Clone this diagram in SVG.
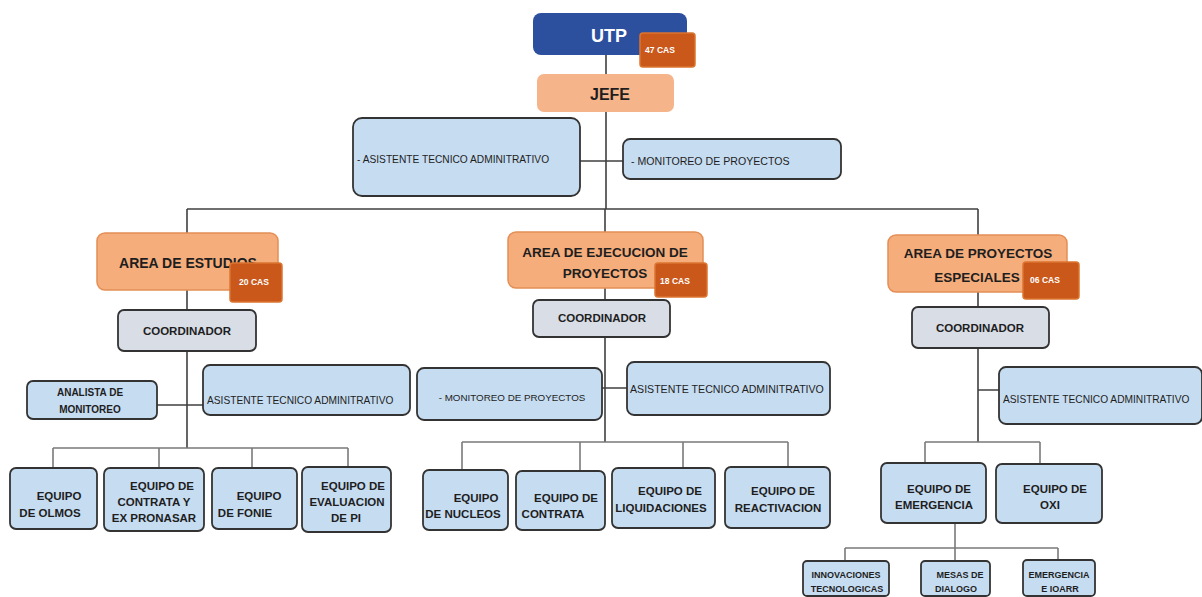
<svg xmlns="http://www.w3.org/2000/svg" width="1202" height="597" viewBox="0 0 1202 597">
<style>
text{font-family:"Liberation Sans",Arial,sans-serif;fill:#1e1e1e}
.b{font-weight:bold}
.c{text-anchor:middle}
.blue{fill:#c6dcf1;stroke:#333;stroke-width:1.8}
.coord{fill:#d8dde6;stroke:#333;stroke-width:1.8}
.area{fill:#f5ad7c;stroke:#e48e56;stroke-width:1.5}
.badge{fill:#c9581a;stroke:#dc7430;stroke-width:1.5}
.bt{fill:#fff;font-weight:bold;font-size:8.5px;text-anchor:middle}
.ln{stroke:#404040;stroke-width:1.6;fill:none}
.ln2{stroke:#7a7a7a;stroke-width:1.6;fill:none}
.eq{font-size:11.5px;font-weight:bold;text-anchor:middle}
.sm{font-size:9px;font-weight:bold;text-anchor:middle}
.at{font-size:10.2px}
</style>
<rect width="1202" height="597" fill="#fff"/>
<g id="connectors">
<path class="ln" d="M606 55V74M606 112V209M580 161H623M187 209H978"/>
<path class="ln" d="M187 209V448M157 405H203"/>
<path class="ln2" d="M53 448H348M53 448V468M159 448V468M252 448V468M348 448V468"/>
<path class="ln" d="M605 209V442M602 388H627"/>
<path class="ln2" d="M462 442H788M462 442V470M580 442V470M683 442V468M788 442V467"/>
<path class="ln" d="M978 209V442M978 390H999"/>
<path class="ln2" d="M925 442H1040M925 442V463M1040 442V464"/>
<path class="ln2" d="M955 523V548M845 548H1058M845 548V561M955 548V561M1058 548V560"/>
</g>
<g id="utp">
<rect x="533" y="13" width="154" height="42" rx="8" fill="#2c4f9e"/>
<text x="609" y="42" class="b c" font-size="18" style="fill:#fff">UTP</text>
<rect class="badge" x="640" y="33" width="55" height="34" rx="3"/>
<text x="660" y="53" class="bt">47 CAS</text>
</g>
<g id="jefe">
<rect x="537" y="74" width="137" height="38" rx="7" fill="#f6b48a"/>
<text x="610" y="100" class="b c" font-size="16">JEFE</text>
</g>
<g id="asistente-top">
<rect class="blue" x="353" y="118" width="227" height="78" rx="9"/>
<text x="357" y="163" class="at">- ASISTENTE TECNICO ADMINITRATIVO</text>
</g>
<g id="monitoreo-top">
<rect class="blue" x="623" y="139" width="218" height="40" rx="7"/>
<text x="631" y="165" font-size="10.6">- MONITOREO DE PROYECTOS</text>
</g>
<g id="area-estudios">
<rect class="area" x="97" y="233" width="181" height="57" rx="8"/>
<text x="188" y="268" class="b c" font-size="14">AREA DE ESTUDIOS</text>
<rect class="badge" x="230" y="263" width="52" height="39" rx="3"/>
<text x="254" y="285" class="bt">20 CAS</text>
</g>
<g id="coord-estudios">
<rect class="coord" x="118" y="310" width="138" height="41" rx="6"/>
<text x="187" y="335" class="b c" font-size="11.5">COORDINADOR</text>
</g>
<g id="analista">
<rect class="blue" x="27" y="381" width="130" height="38" rx="6"/>
<text x="90" y="396" class="b c" font-size="10">ANALISTA DE</text>
<text x="90" y="413" class="b c" font-size="10">MONITOREO</text>
</g>
<g id="asistente-estudios">
<rect class="blue" x="203" y="365" width="207" height="50" rx="7"/>
<text x="207" y="404" class="at">ASISTENTE TECNICO ADMINITRATIVO</text>
</g>
<g id="eq-olmos">
<rect class="blue" x="10" y="468" width="87" height="61" rx="6"/>
<text x="59" y="500" class="eq">EQUIPO</text>
<text x="50" y="517" class="eq">DE OLMOS</text>
</g>
<g id="eq-contrata-pronasar">
<rect class="blue" x="104" y="468" width="100" height="63" rx="6"/>
<text x="162" y="490" class="eq">EQUIPO DE</text>
<text x="154" y="506" class="eq">CONTRATA Y</text>
<text x="154" y="522" class="eq">EX PRONASAR</text>
</g>
<g id="eq-fonie">
<rect class="blue" x="212" y="468" width="85" height="61" rx="6"/>
<text x="259" y="500" class="eq">EQUIPO</text>
<text x="245" y="517" class="eq">DE FONIE</text>
</g>
<g id="eq-evaluacion">
<rect class="blue" x="302" y="467" width="89" height="65" rx="6"/>
<text x="353" y="490" class="eq">EQUIPO DE</text>
<text x="347" y="506" class="eq">EVALUACION</text>
<text x="346" y="522" class="eq">DE PI</text>
</g>
<g id="area-ejecucion">
<rect class="area" x="508" y="232" width="195" height="56" rx="8"/>
<text x="605" y="257" class="b c" font-size="13.5">AREA DE EJECUCION DE</text>
<text x="605" y="278" class="b c" font-size="13.5">PROYECTOS</text>
<rect class="badge" x="655" y="263" width="52" height="34" rx="3"/>
<text x="675" y="284" class="bt">18 CAS</text>
</g>
<g id="coord-ejecucion">
<rect class="coord" x="533" y="300" width="137" height="37" rx="6"/>
<text x="602" y="322" class="b c" font-size="11.5">COORDINADOR</text>
</g>
<g id="monitoreo-ejecucion">
<rect class="blue" x="417" y="368" width="185" height="52" rx="7"/>
<text x="512" y="401" class="c" font-size="9.8">- MONITOREO DE PROYECTOS</text>
</g>
<g id="asistente-ejecucion">
<rect class="blue" x="627" y="362" width="203" height="53" rx="7"/>
<text x="630" y="393" font-size="10.6">ASISTENTE TECNICO ADMINITRATIVO</text>
</g>
<g id="eq-nucleos">
<rect class="blue" x="423" y="470" width="85" height="60" rx="6"/>
<text x="476" y="502" class="eq">EQUIPO</text>
<text x="463" y="518" class="eq">DE NUCLEOS</text>
</g>
<g id="eq-contrata">
<rect class="blue" x="516" y="471" width="89" height="59" rx="6"/>
<text x="566" y="502" class="eq">EQUIPO DE</text>
<text x="553" y="518" class="eq">CONTRATA</text>
</g>
<g id="eq-liquidaciones">
<rect class="blue" x="612" y="468" width="103" height="60" rx="6"/>
<text x="670" y="495" class="eq">EQUIPO DE</text>
<text x="661" y="512" class="eq">LIQUIDACIONES</text>
</g>
<g id="eq-reactivacion">
<rect class="blue" x="725" y="467" width="105" height="61" rx="6"/>
<text x="783" y="495" class="eq">EQUIPO DE</text>
<text x="778" y="512" class="eq">REACTIVACION</text>
</g>
<g id="area-especiales">
<rect class="area" x="888" y="235" width="179" height="57" rx="8"/>
<text x="978" y="258" class="b c" font-size="13.5">AREA DE PROYECTOS</text>
<text x="977" y="282" class="b c" font-size="13.5">ESPECIALES</text>
<rect class="badge" x="1023" y="262" width="56" height="37" rx="3"/>
<text x="1045" y="283" class="bt">06 CAS</text>
</g>
<g id="coord-especiales">
<rect class="coord" x="912" y="307" width="137" height="41" rx="6"/>
<text x="980" y="332" class="b c" font-size="11.5">COORDINADOR</text>
</g>
<g id="asistente-especiales">
<rect class="blue" x="999" y="367" width="203" height="57" rx="7"/>
<text x="1003" y="403" class="at">ASISTENTE TECNICO ADMINITRATIVO</text>
</g>
<g id="eq-emergencia">
<rect class="blue" x="881" y="463" width="105" height="60" rx="6"/>
<text x="939" y="493" class="eq">EQUIPO DE</text>
<text x="934" y="509" class="eq">EMERGENCIA</text>
</g>
<g id="eq-oxi">
<rect class="blue" x="996" y="464" width="106" height="59" rx="6"/>
<text x="1055" y="493" class="eq">EQUIPO DE</text>
<text x="1050" y="509" class="eq">OXI</text>
</g>
<g id="innovaciones">
<rect class="blue" x="803" y="561" width="86" height="35" rx="4"/>
<text x="846" y="578" class="sm">INNOVACIONES</text>
<text x="847" y="592" class="sm">TECNOLOGICAS</text>
</g>
<g id="mesas">
<rect class="blue" x="921" y="561" width="69" height="35" rx="4"/>
<text x="960" y="578" class="sm">MESAS DE</text>
<text x="956" y="592" class="sm">DIALOGO</text>
</g>
<g id="emergencia-ioarr">
<rect class="blue" x="1023" y="560" width="72" height="36" rx="4"/>
<text x="1059" y="578" class="sm">EMERGENCIA</text>
<text x="1060" y="592" class="sm">E IOARR</text>
</g>
</svg>
